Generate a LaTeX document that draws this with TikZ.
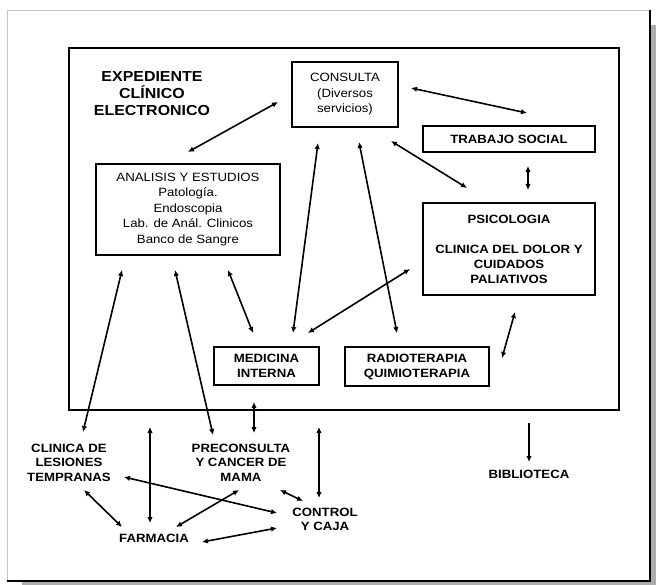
\documentclass[tikz,border=0pt]{standalone}
\usepackage{fontspec}
\setmainfont[FakeStretch=1.1]{Liberation Sans}
\usetikzlibrary{arrows.meta}
\begin{document}
\begin{tikzpicture}[x=1pt,y=-1pt,
  box/.style={draw, line width=1.6pt, inner sep=0pt, align=center, font=\fontsize{12}{15.5}\selectfont},
  boxb/.style={box, font=\fontsize{12}{15}\selectfont\bfseries},
  lbl/.style={align=center, inner sep=0pt, font=\fontsize{12}{14.5}\selectfont\bfseries},
  tip/.tip={Latex[length=6pt,width=5.5pt]},
  dbl/.style={line width=1.6pt, tip-tip},
  sgl/.style={line width=1.2pt, -tip}]
\useasboundingbox (0,0) rectangle (656,585);
% page with shadow
\fill[gray!65] (651,25) rectangle (656,585);
\fill[gray!65] (22,582) rectangle (656,585);
\draw[gray!45, line width=0.6pt] (7,581) -- (7,10) -- (650,10);
\draw[line width=1.8pt] (650,10) -- (650,581) -- (7,581);
% inner frame
\node[draw, line width=1.6pt, inner sep=0pt, minimum width=550, minimum height=362] (frame) at (344,229) {};
% title
\node[align=center, inner sep=0pt, font=\fontsize{14.5}{17}\selectfont\bfseries] (titulo) at (152,94) {EXPEDIENTE\\CLÍNICO\\ELECTRONICO};
% boxes
\node[box, minimum width=106, minimum height=65] (consulta) at (345,94.5) {CONSULTA\\(Diversos\\servicios)};
\node[boxb, minimum width=172, minimum height=26] (trabajo) at (509,139) {TRABAJO SOCIAL};
\node[boxb, minimum width=172, minimum height=92] (psico) at (509,249) {PSICOLOGIA\\[15pt]CLINICA DEL DOLOR Y\\CUIDADOS\\PALIATIVOS};
\node[box, minimum width=184, minimum height=91] (analisis) at (188,209.5) {ANALISIS Y ESTUDIOS\\Patología.\\Endoscopia\\Lab. de Anál. Clinicos\\Banco de Sangre};
\node[boxb, minimum width=105, minimum height=38] (medicina) at (266.5,366) {MEDICINA\\INTERNA};
\node[boxb, minimum width=144, minimum height=39] (radio) at (417,366.5) {RADIOTERAPIA\\QUIMIOTERAPIA};
% outside labels
\node[lbl] (lesiones) at (69,462.5) {CLINICA DE\\LESIONES\\TEMPRANAS};
\node[lbl] (preconsulta) at (241,462.5) {PRECONSULTA\\Y CANCER DE\\MAMA};
\node[lbl] (farmacia) at (154,538) {FARMACIA};
\node[lbl] (control) at (325,519.5) {CONTROL\\Y CAJA};
\node[lbl] (biblioteca) at (529,474) {BIBLIOTECA};
% connector ends
\coordinate (con-w) at (278,102);   \coordinate (ana-n) at (188,152);
\coordinate (con-e) at (411,88);    \coordinate (tra-n) at (527,113);
\coordinate (tra-s) at (528,166);   \coordinate (psi-n) at (528,190);
\coordinate (con-se) at (391,141);  \coordinate (psi-nw) at (467,188);
\coordinate (con-s2) at (359,142);  \coordinate (rad-n) at (397,333);
\coordinate (con-s1) at (318,143);  \coordinate (med-n) at (293,333);
\coordinate (ana-se) at (228,270);  \coordinate (med-nw) at (253,333);
\coordinate (med-ne) at (308,333);  \coordinate (psi-w) at (410,269);
\coordinate (psi-s) at (515,312);   \coordinate (rad-e) at (502,358);
\coordinate (ana-sw) at (122,270);  \coordinate (les-n) at (83,432);
\coordinate (ana-s) at (175,270);   \coordinate (pre-n) at (213,435);
\coordinate (med-s) at (254,402);   \coordinate (pre-ne) at (254,433);
\coordinate (fra-s1) at (150,427);  \coordinate (far-n) at (150,523);
\coordinate (fra-s2) at (319,427);  \coordinate (ctl-n) at (319,498);
\coordinate (les-s) at (84,490);    \coordinate (far-nw) at (122,527);
\coordinate (les-e) at (124,477);   \coordinate (ctl-w) at (277,513);
\coordinate (pre-s) at (239,490);   \coordinate (far-ne) at (176,527);
\coordinate (pre-se) at (280,490);  \coordinate (ctl-nw) at (303,501);
\coordinate (far-e) at (202,542);   \coordinate (ctl-sw) at (277,528);
\coordinate (fra-s3) at (529,423);  \coordinate (bib-n) at (529,462);
% connectors
\draw[dbl] (con-w) -- (ana-n);
\draw[dbl] (con-e) -- (tra-n);
\draw[dbl] (tra-s) -- (psi-n);
\draw[dbl] (con-se) -- (psi-nw);
\draw[dbl] (con-s2) -- (rad-n);
\draw[dbl] (con-s1) -- (med-n);
\draw[dbl] (ana-se) -- (med-nw);
\draw[dbl] (med-ne) -- (psi-w);
\draw[dbl] (psi-s) -- (rad-e);
\draw[dbl] (ana-sw) -- (les-n);
\draw[dbl] (ana-s) -- (pre-n);
\draw[dbl] (med-s) -- (pre-ne);
\draw[dbl] (fra-s1) -- (far-n);
\draw[dbl] (fra-s2) -- (ctl-n);
\draw[dbl] (les-s) -- (far-nw);
\draw[dbl] (les-e) -- (ctl-w);
\draw[dbl] (pre-s) -- (far-ne);
\draw[dbl] (pre-se) -- (ctl-nw);
\draw[dbl] (far-e) -- (ctl-sw);
\draw[sgl] (fra-s3) -- (bib-n);
\end{tikzpicture}
\end{document}
